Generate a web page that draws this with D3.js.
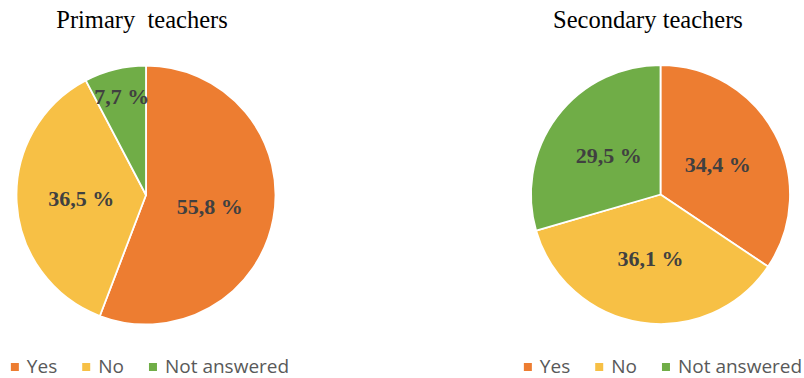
<!DOCTYPE html>
<html>
<head>
<meta charset="utf-8">
<script src="https://cdn.jsdelivr.net/npm/d3@7"></script>
<style>
  html, body { margin: 0; padding: 0; background: #fff; }
  svg { display: block; }
</style>
</head>
<body>
<svg id="chart" width="804" height="378"></svg>
<script>
// ---- Data ----
const categories = ["Yes", "No", "Not answered"];
const colors = ["#ED7D31", "#F7C045", "#70AD47"];
const titles = ["Primary  teachers", "Secondary teachers"];
const primaryValues = [55.8, 36.5, 7.7];
const secondaryValues = [34.4, 36.1, 29.5];
const valueLabels = [["55,8 %", "36,5 %", "7,7 %"], ["34,4 %", "36,1 %", "29,5 %"]];

// ---- Layout ----
const svg = d3.select("#chart");
const panels = [
  { values: primaryValues, cx: 146, cy: 195, r: 129.5, titleX: 142, legendCx: 150 },
  { values: secondaryValues, cx: 660.5, cy: 194.5, r: 129.5, titleX: 648, legendCx: 663 }
];

const color = d3.scaleOrdinal().domain(categories).range(colors);
const pie = d3.pie().sort(null).value(d => d.value);

panels.forEach((p, pi) => {
  const data = categories.map((c, i) => ({ cat: c, value: p.values[i], label: valueLabels[pi][i] }));
  const arcs = pie(data);
  const arc = d3.arc().innerRadius(0).outerRadius(p.r);

  const g = svg.append("g").attr("transform", `translate(${p.cx},${p.cy})`);
  g.selectAll("path").data(arcs).join("path")
    .attr("d", arc)
    .attr("fill", d => color(d.data.cat))
    .attr("stroke", "#fff")
    .attr("stroke-width", 1.8)
    .attr("stroke-linejoin", "round");

  g.selectAll("text.val").data(arcs).join("text")
    .attr("class", "val")
    .attr("transform", d => {
      const frac = (d.endAngle - d.startAngle) / (2 * Math.PI);
      const lr = frac < 0.1 ? p.r * 0.78 : p.r * 0.5;
      const a = (d.startAngle + d.endAngle) / 2;
      return `translate(${Math.sin(a) * lr},${-Math.cos(a) * lr})`;
    })
    .attr("text-anchor", "middle")
    .attr("dy", "0.34em")
    .attr("font-family", "'Liberation Serif', 'Times New Roman', serif")
    .attr("font-weight", "bold")
    .attr("font-size", 22)
    .attr("fill", "#404040")
    .text(d => d.data.label);

  // Title
  svg.append("text")
    .attr("x", p.titleX)
    .attr("y", 28)
    .attr("text-anchor", "middle")
    .attr("font-family", "'Liberation Serif', 'Times New Roman', serif")
    .attr("font-size", 24.5)
    .attr("fill", "#000")
    .style("white-space", "pre")
    .text(titles[pi]);

  // Legend
  const lg = svg.append("g");
  const sq = 8, gapText = 8, gapItem = 25, fs = 19;
  const items = lg.selectAll("g").data(categories).join("g");
  items.append("rect")
    .attr("width", sq).attr("height", sq)
    .attr("y", 363)
    .attr("fill", d => color(d));
  items.append("text")
    .attr("x", sq + gapText)
    .attr("y", 373)
    .attr("font-family", "'Open Sans', 'Liberation Sans', sans-serif")
    .attr("font-size", fs)
    .attr("fill", "#595959")
    .text(d => d);
  let x = 0;
  items.each(function () {
    const t = d3.select(this).select("text").node().getComputedTextLength();
    d3.select(this).attr("transform", `translate(${x},0)`);
    x += sq + gapText + t + gapItem;
  });
  const total = x - gapItem;
  lg.attr("transform", `translate(${p.legendCx - total / 2},0)`);
});
</script>
</body>
</html>
